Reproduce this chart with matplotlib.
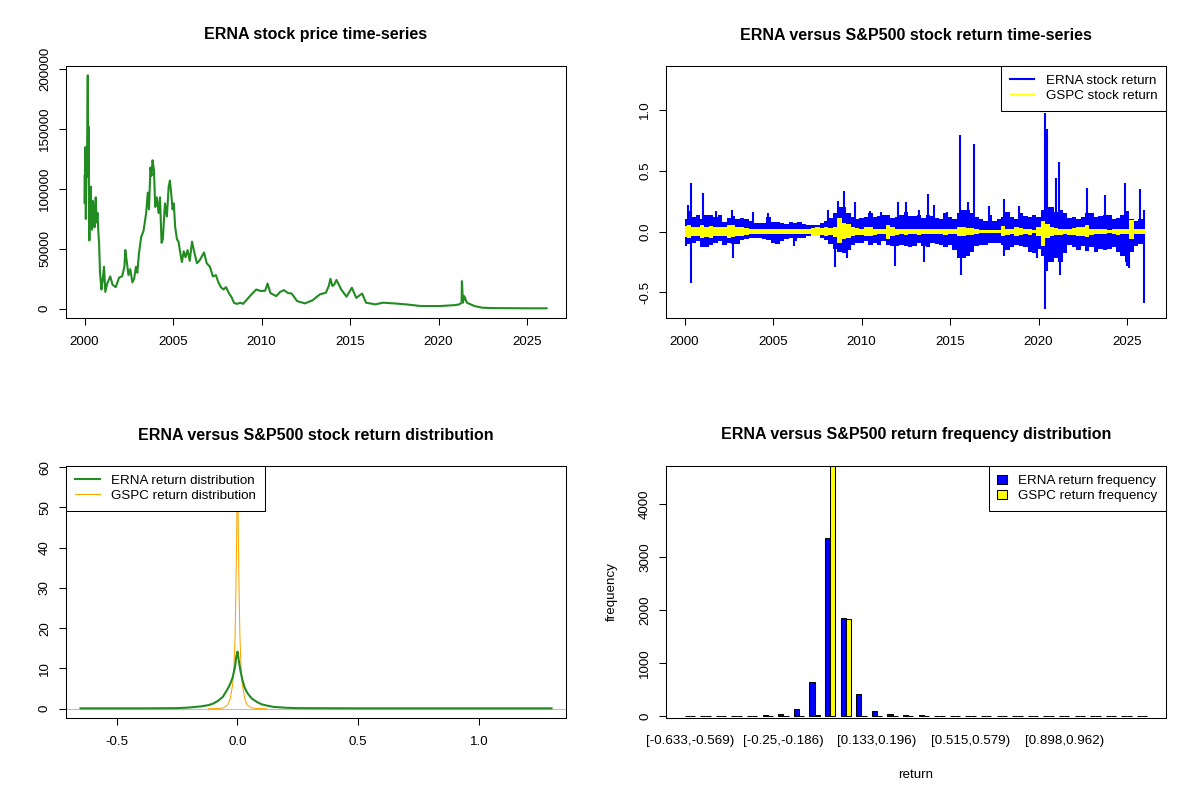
import numpy as np
import matplotlib
matplotlib.use('Agg')  # no display
import matplotlib.pyplot as plt
from matplotlib.lines import Line2D
from matplotlib.patches import Patch
from matplotlib.ticker import FormatStrFormatter

plt.rcParams['font.family'] = ['Liberation Sans', 'DejaVu Sans']

# ---- ERNA price, thousands ----
price_year = [
    2000.00, 2000.01, 2000.03, 2000.05, 2000.07, 2000.10, 2000.14, 2000.18, 2000.21, 2000.23,
    2000.25, 2000.27, 2000.31, 2000.35, 2000.39, 2000.42, 2000.47, 2000.52, 2000.56, 2000.60,
    2000.63, 2000.68, 2000.73, 2000.78, 2000.82, 2000.87, 2000.92, 2000.95, 2001.02, 2001.10,
    2001.17, 2001.28, 2001.45, 2001.58, 2001.76, 2001.95, 2002.12, 2002.25, 2002.30, 2002.38,
    2002.48, 2002.58, 2002.70, 2002.80, 2002.90, 2002.98, 2003.07, 2003.20, 2003.33, 2003.48,
    2003.57, 2003.64, 2003.72, 2003.78, 2003.84, 2003.92, 2003.99, 2004.08, 2004.18, 2004.26,
    2004.35, 2004.42, 2004.54, 2004.65, 2004.75, 2004.82, 2004.89, 2004.97, 2005.04, 2005.12,
    2005.22, 2005.31, 2005.40, 2005.50, 2005.60, 2005.70, 2005.82, 2005.94, 2006.07, 2006.20,
    2006.35, 2006.48, 2006.60, 2006.75, 2006.90, 2007.08, 2007.25, 2007.42, 2007.56, 2007.70,
    2007.85, 2007.99, 2008.15, 2008.30, 2008.45, 2008.62, 2008.80, 2008.95, 2009.10, 2009.43,
    2009.70, 2009.97, 2010.20, 2010.34, 2010.50, 2010.83, 2011.05, 2011.26, 2011.50, 2011.70,
    2012.00, 2012.45, 2012.88, 2013.30, 2013.63, 2013.80, 2013.89, 2014.00, 2014.10, 2014.23,
    2014.50, 2014.80, 2015.10, 2015.35, 2015.68, 2015.90, 2016.43, 2016.86, 2017.50, 2018.15,
    2019.00, 2020.10, 2020.95, 2021.17, 2021.30, 2021.32, 2021.38, 2021.45, 2021.60, 2022.03,
    2022.46, 2023.00, 2024.00, 2025.00, 2026.10,
]
price_k = [
    111, 88, 113, 135, 75, 112, 130, 195, 110, 152,
    88, 57, 95, 102, 72, 66, 90, 78, 68, 85,
    93, 72, 80, 63, 55, 30, 22, 16, 24, 35,
    14, 21, 27, 20, 18, 26, 27, 35, 49, 40,
    28, 33, 22, 25, 35, 30, 46, 60, 65, 80,
    97, 83, 118, 111, 124, 116, 85, 93, 80, 93,
    55, 58, 88, 77, 102, 107, 97, 83, 88, 68,
    58, 56, 47, 39, 48, 43, 49, 40, 56, 47,
    38, 40, 43, 47, 38, 35, 27, 28, 22, 18,
    16, 18, 13, 9.7, 4.7, 4.0, 5.0, 4.0, 6.4, 12,
    16, 14.7, 15, 21, 13, 10.5, 14, 15.5, 13, 12.7,
    6.4, 4.4, 7, 12, 13.3, 19, 25, 19, 20, 24,
    16, 10, 17.5, 9, 12.7, 5, 3.6, 5, 4.4, 3.6,
    2.2, 2.2, 3, 3.6, 5, 23, 5, 10.5, 5, 2.2,
    0.8, 0.5, 0.4, 0.3, 0.3,
]

# ---- daily returns: quarterly envelope of the dense band + single spikes ----
q_start, q_end = 2000.0, 2026.0
erna_band_hi = [
    .10, .17, .12, .14,  .10, .14, .14, .12,  .14, .08, .11, .13,  .10, .11, .10, .09,
    .07, .07, .07, .12,  .08, .08, .07, .06,  .08, .07, .08, .06,  .05, .05, .05, .07,
    .09, .11, .15, .20,  .20, .15, .12, .10,  .11, .12, .15, .12,  .13, .14, .14, .11,
    .12, .14, .16, .13,  .13, .14, .11, .14,  .13, .11, .10, .15,  .12, .10, .15, .18,
    .18, .15, .12, .10,  .09, .14, .09, .10,  .12, .16, .12, .10,  .15, .13, .12, .14,
    .12, .18, .20, .20,  .16, .18, .15, .11,  .12, .10, .12, .15,  .15, .12, .13, .14,
    .14, .10, .11, .14,  .17, .10, .09, .10,  .12,
]
erna_band_lo = [
    -.12, -.10, -.09, -.08,  -.13, -.13, -.11, -.09,  -.08, -.11, -.09, -.10,  -.10, -.07, -.06, -.05,
    -.05, -.05, -.06, -.07,  -.09, -.10, -.08, -.06,  -.05, -.08, -.05, -.05,  -.04, -.04, -.04, -.05,
    -.07, -.10, -.14, -.17,  -.18, -.15, -.11, -.09,  -.09, -.08, -.11, -.09,  -.11, -.08, -.11, -.12,
    -.12, -.11, -.12, -.13,  -.12, -.09, -.12, -.13,  -.09, -.10, -.11, -.13,  -.11, -.15, -.22, -.22,
    -.20, -.17, -.12, -.11,  -.11, -.09, -.09, -.09,  -.11, -.15, -.13, -.11,  -.12, -.13, -.17, -.18,
    -.14, -.20, -.25, -.25,  -.22, -.25, -.18, -.11,  -.13, -.15, -.12, -.16,  -.13, -.17, -.14, -.15,
    -.14, -.13, -.17, -.20,  -.25, -.17, -.12, -.10,  -.11,
]
gspc_band_hi = [
    .045, .05, .04, .04,  .05, .04, .045, .04,  .035, .04, .055, .05,  .04, .035, .03, .02,
    .02, .02, .02, .02,  .02, .02, .02, .02,  .02, .02, .02, .02,  .02, .03, .035, .03,
    .035, .03, .04, .11,  .07, .06, .035, .03,  .025, .04, .035, .025,  .02, .02, .05, .04,
    .025, .02, .025, .02,  .02, .025, .02, .02,  .02, .02, .02, .025,  .02, .02, .04, .035,
    .03, .03, .02, .015,  .015, .015, .015, .015,  .045, .025, .02, .04,  .03, .02, .025, .015,
    .04, .09, .06, .04,  .03, .025, .02, .025,  .03, .04, .035, .055,  .025, .02, .02, .02,
    .015, .02, .025, .02,  .02, .095, .02, .02,  .02,
]
gspc_band_lo = [
    -.045, -.05, -.04, -.04,  -.05, -.045, -.05, -.04,  -.04, -.04, -.05, -.045,  -.04, -.035, -.03, -.02,
    -.02, -.02, -.02, -.02,  -.02, -.02, -.02, -.02,  -.02, -.02, -.02, -.02,  -.02, -.035, -.035, -.03,
    -.035, -.03, -.045, -.09,  -.06, -.05, -.035, -.03,  -.025, -.04, -.035, -.025,  -.02, -.02, -.06, -.04,
    -.025, -.02, -.025, -.02,  -.02, -.025, -.02, -.02,  -.02, -.02, -.02, -.025,  -.02, -.02, -.04, -.035,
    -.03, -.03, -.02, -.015,  -.015, -.015, -.015, -.015,  -.04, -.025, -.02, -.035,  -.03, -.02, -.025, -.015,
    -.04, -.12, -.05, -.04,  -.03, -.025, -.02, -.025,  -.03, -.04, -.035, -.045,  -.025, -.02, -.02, -.02,
    -.015, -.02, -.025, -.02,  -.02, -.06, -.02, -.02,  -.02,
]
spike_year = [
    2000.20, 2000.34, 2000.34, 2001.05, 2001.79, 2002.70, 2002.72, 2003.84, 2004.73, 2006.17,
    2008.13, 2008.50, 2008.69, 2009.03, 2009.20, 2009.62, 2010.50, 2011.11, 2011.89, 2012.04,
    2012.50, 2013.25, 2013.53, 2013.74, 2014.10, 2014.84, 2015.58, 2015.60, 2016.00, 2016.36,
    2017.20, 2018.02, 2018.05, 2018.89, 2019.90, 2020.34, 2020.36, 2020.49, 2020.50, 2020.99,
    2021.18, 2021.20, 2022.76, 2023.75, 2024.87, 2025.00, 2025.10, 2025.71, 2025.93, 2025.95,
]
spike_ret = [
    0.22, 0.40, -0.42, 0.32, 0.17, 0.18, -0.22, 0.16, 0.15, -0.12,
    0.18, -0.29, 0.25, 0.33, -0.22, 0.24, 0.17, 0.16, -0.28, 0.24,
    0.24, 0.18, -0.25, 0.31, 0.22, 0.16, 0.79, -0.36, 0.24, 0.72,
    0.21, 0.27, -0.20, 0.21, -0.22, 0.97, -0.64, 0.84, -0.32, 0.44,
    0.57, -0.355, 0.36, 0.30, 0.40, -0.28, -0.30, 0.35, -0.59, 0.18,
]

# ---- return densities ----
erna_dens_x = [-0.65, -0.40, -0.25, -0.20, -0.15, -0.12, -0.10, -0.08, -0.06, -0.05, -0.04,
               -0.03, -0.02, -0.01, -0.005, 0.0, 0.004, 0.008, 0.012, 0.02, 0.03, 0.04,
               0.05, 0.06, 0.08, 0.10, 0.12, 0.15, 0.20, 0.25, 0.50, 1.00, 1.30]
erna_dens_y = [0.1, 0.1, 0.15, 0.3, 0.6, 0.9, 1.3, 2.0, 3.0, 4.0, 5.0,
               6.2, 7.8, 10.5, 13.0, 14.2, 12.5, 11.0, 9.5, 7.2, 5.2, 4.0,
               3.2, 2.5, 1.7, 1.1, 0.8, 0.45, 0.25, 0.15, 0.1, 0.1, 0.1]
gspc_dens_x = [-0.12, -0.08, -0.06, -0.05, -0.04, -0.03, -0.02, -0.015, -0.01, -0.007, -0.004,
               -0.002, 0.0, 0.002, 0.004, 0.007, 0.01, 0.015, 0.02, 0.03, 0.04, 0.05, 0.06,
               0.08, 0.12]
gspc_dens_y = [0.0, 0.05, 0.2, 0.5, 1.0, 2.5, 6.0, 10.0, 18.0, 28.0, 40.0,
               52.0, 56.0, 52.0, 40.0, 28.0, 18.0, 10.0, 6.0, 2.5, 1.0, 0.5, 0.2,
               0.05, 0.0]

# ---- return histogram, 30 bins ----
erna_freq = [1, 0, 0, 1, 2, 15, 35, 140, 650, 3360, 1850, 420, 100, 40, 20,
             15, 5, 2, 1, 1, 1, 0, 0, 1, 0, 0, 0, 0, 0, 1]
gspc_freq = [0, 0, 0, 0, 0, 0, 0, 3, 20, 4720, 1830, 12, 0, 0, 0,
             0, 0, 0, 0, 0, 0, 0, 0, 0, 0, 0, 0, 0, 0, 0]
bin_label_idx = [0, 6, 12, 18, 24]
bin_labels = ['[-0.633,-0.569)', '[-0.25,-0.186)', '[0.133,0.196)',
              '[0.515,0.579)', '[0.898,0.962)']

GREEN = '#228B22'
FS = 9.6


def style_axes(ax):
    for s in ax.spines.values():
        s.set_linewidth(0.75)
    ax.tick_params(length=5, width=0.75, labelsize=FS)
    ax.tick_params(axis='x', pad=8.3)
    ax.tick_params(axis='y', pad=5.8, labelrotation=90)
    plt.setp(ax.get_yticklabels(), va='center')


def title(ax, txt):
    ax.text(0.5, 1 + 31 / 252, txt, transform=ax.transAxes, ha='center', va='center',
            fontsize=11.5, fontweight='bold')


def box_legend(ax, handles, labels, loc, **kw):
    leg = ax.legend(handles, labels, loc=loc, fontsize=FS, frameon=True, fancybox=False,
                    edgecolor='black', framealpha=1, borderaxespad=0, borderpad=0.65,
                    labelspacing=0.2, **kw)
    leg.get_frame().set_linewidth(0.75)
    return leg


def main():
    fig = plt.figure(figsize=(12, 8), dpi=100)
    ax1 = fig.add_axes([66 / 1200, 482 / 800, 500 / 1200, 252 / 800])
    ax2 = fig.add_axes([666 / 1200, 482 / 800, 500 / 1200, 252 / 800])
    ax3 = fig.add_axes([66 / 1200, 82 / 800, 500 / 1200, 252 / 800])
    ax4 = fig.add_axes([666 / 1200, 82 / 800, 500 / 1200, 252 / 800])

    # Panel 1: price
    ax1.plot(price_year, np.array(price_k) * 1000, color=GREEN, lw=1.5)
    ax1.set_xlim(1998.95, 2027.2)
    ax1.set_ylim(-7800, 202800)
    ax1.set_xticks(range(2000, 2026, 5))
    ax1.set_yticks([0, 50000, 100000, 150000, 200000])
    ax1.set_yticklabels(['0', '50000', '100000', '150000', '200000'])
    style_axes(ax1)
    title(ax1, 'ERNA stock price time-series')

    # Panel 2: returns
    qt = np.arange(q_start, q_end + 0.01, 0.25)
    ax2.fill_between(qt, erna_band_lo, erna_band_hi, step='mid', color='blue', lw=0, zorder=2)
    ax2.vlines(spike_year, 0, spike_ret, color='blue', lw=1.5, zorder=2)
    ax2.fill_between(qt, gspc_band_lo, gspc_band_hi, step='mid', color='yellow', lw=0, zorder=3)
    ax2.set_xlim(1998.95, 2027.2)
    ax2.set_ylim(-0.71, 1.36)
    ax2.set_xticks(range(2000, 2026, 5))
    ax2.set_yticks([-0.5, 0.0, 0.5, 1.0])
    ax2.yaxis.set_major_formatter(FormatStrFormatter('%.1f'))
    style_axes(ax2)
    title(ax2, 'ERNA versus S&P500 stock return time-series')
    box_legend(ax2, [Line2D([], [], color='blue', lw=1.5), Line2D([], [], color='yellow', lw=0.75)],
               ['ERNA stock return', 'GSPC stock return'], 'upper right',
               handlelength=1.8, handletextpad=0.9)

    # Panel 3: densities
    ax3.axhline(0, color='#BEBEBE', lw=0.75, zorder=1)
    ax3.plot(erna_dens_x, erna_dens_y, color=GREEN, lw=1.5, zorder=3)
    ax3.plot(gspc_dens_x, gspc_dens_y, color='orange', lw=0.75, zorder=2)
    ax3.set_xlim(-0.71, 1.36)
    ax3.set_ylim(-2.3, 60.3)
    ax3.set_xticks([-0.5, 0.0, 0.5, 1.0])
    ax3.xaxis.set_major_formatter(FormatStrFormatter('%.1f'))
    ax3.set_yticks(range(0, 61, 10))
    style_axes(ax3)
    title(ax3, 'ERNA versus S&P500 stock return distribution')
    box_legend(ax3, [Line2D([], [], color=GREEN, lw=1.5), Line2D([], [], color='orange', lw=0.75)],
               ['ERNA return distribution', 'GSPC return distribution'], 'upper left',
               handlelength=1.9, handletextpad=0.85)

    # Panel 4: frequency bars (R barplot, beside=TRUE)
    n = len(erna_freq)
    grp = np.arange(n) * 3
    ax4.bar(grp + 1.5, erna_freq, width=1, color='blue', edgecolor='black', lw=0.75)
    ax4.bar(grp + 2.5, gspc_freq, width=1, color='yellow', edgecolor='black', lw=0.75)
    ax4.set_xlim(-2.56, 93.56)
    ax4.set_ylim(-35, 4720)
    ax4.set_yticks(range(0, 4001, 1000))
    style_axes(ax4)
    ax4.set_xticks(grp[bin_label_idx] + 2)
    ax4.set_xticklabels(bin_labels)
    ax4.tick_params(axis='x', length=0, pad=12.5)
    title(ax4, 'ERNA versus S&P500 return frequency distribution')
    ax4.text(-54.5 / 500, 0.5, 'frequency', transform=ax4.transAxes, rotation=90,
             ha='center', va='center', fontsize=FS)
    ax4.text(0.5, -57 / 252, 'return', transform=ax4.transAxes,
             ha='center', va='center', fontsize=FS)
    box_legend(ax4, [Patch(facecolor='blue', edgecolor='black', lw=0.75),
                     Patch(facecolor='yellow', edgecolor='black', lw=0.75)],
               ['ERNA return frequency', 'GSPC return frequency'], 'upper right',
               handlelength=0.75, handleheight=0.7, handletextpad=0.8)

    fig.savefig('out.png', dpi=100)


if __name__ == '__main__':
    main()
